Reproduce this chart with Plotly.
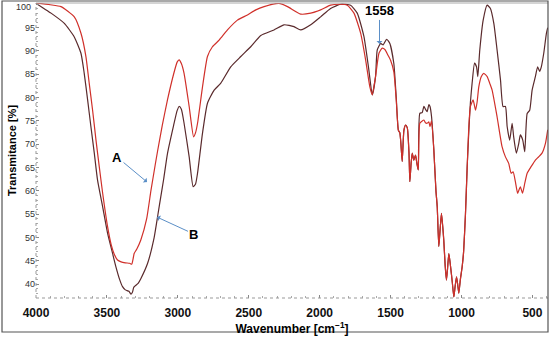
import plotly.graph_objects as go

# ---- data ----
wn_B = [4000, 3950, 3894, 3800, 3730, 3683, 3660, 3636, 3613, 3589, 3566, 3530, 3495, 3460, 3437, 3410, 3390,
        3370, 3345, 3331, 3320, 3310, 3280, 3261, 3213, 3167, 3140, 3120, 3100, 3073, 3030, 3005, 2991, 2975,
        2956, 2920, 2892, 2875, 2861, 2826, 2791, 2744, 2697, 2627, 2556, 2486, 2415, 2322, 2251, 2181, 2134,
        2063, 1993, 1923, 1852, 1782, 1735, 1688, 1653, 1629, 1606, 1594, 1570, 1552, 1528, 1505, 1477, 1460,
        1445, 1435, 1428, 1418, 1406, 1394, 1382, 1370, 1364, 1355, 1347, 1336, 1324, 1315, 1305, 1294, 1277,
        1265, 1254, 1242, 1230, 1222, 1211, 1195, 1180, 1171, 1160, 1150, 1141, 1125, 1115, 1106, 1098, 1089,
        1077, 1065, 1054, 1045, 1035, 1027, 1019, 1008, 995, 985, 972, 960, 948, 937, 925, 908, 894, 885, 871,
        847, 819, 796, 772, 749, 725, 707, 690, 678, 660, 643, 632, 613, 596, 585, 568, 554, 537, 519, 502, 479,
        463, 449, 437, 420, 401, 392]
T_B = [100.2, 99.2, 98.1, 95.9, 93.0, 89.5, 85.2, 79.5, 73.8, 68.1, 62.3, 56.6, 50.9, 46.6, 43.8, 41.0, 39.5,
       38.8, 38.5, 37.9, 38.3, 39.4, 40.2, 41.2, 44.5, 50.0, 55.0, 58.8, 62.5, 68.0, 74.0, 77.2, 78.1, 77.5,
       74.5, 67.3, 60.9, 61.5, 63.8, 72.4, 78.8, 81.6, 83.1, 86.6, 88.8, 90.9, 93.3, 94.5, 95.6, 95.2, 94.5,
       95.6, 97.3, 99.1, 100.0, 99.8, 98.1, 93.1, 85.9, 80.6, 84.5, 90.2, 91.6, 91.3, 92.5, 91.6, 87.3, 80.0,
       73.0, 72.5, 70.5, 66.3, 73.0, 74.1, 73.5, 68.0, 62.0, 66.0, 68.1, 66.6, 67.7, 66.0, 64.5, 76.6, 76.8,
       78.1, 77.5, 77.0, 78.5, 78.1, 75.9, 68.8, 60.0, 56.6, 48.1, 52.0, 55.2, 49.5, 44.0, 40.9, 43.5, 46.6,
       43.8, 40.5, 37.3, 39.5, 41.6, 40.0, 38.1, 41.0, 43.8, 47.0, 55.0, 65.0, 73.0, 79.0, 83.1, 87.4, 86.6,
       84.5, 90.2, 96.6, 99.8, 99.1, 95.9, 90.2, 83.8, 78.1, 78.1, 73.8, 70.9, 74.5, 71.6, 68.1, 70.2, 72.0,
       70.9, 68.4, 76.6, 77.3, 81.6, 84.5, 86.6, 85.6, 86.6, 89.5, 93.8, 95.0]

wn_A = [4000, 3900, 3824, 3730, 3683, 3648, 3625, 3601, 3577, 3554, 3530, 3495, 3470, 3449, 3425, 3400, 3370,
        3340, 3325, 3315, 3308, 3290, 3261, 3220, 3190, 3160, 3143, 3110, 3073, 3030, 3005, 2991, 2975, 2956,
        2920, 2889, 2875, 2861, 2826, 2791, 2756, 2709, 2650, 2580, 2509, 2450, 2392, 2287, 2227, 2134, 2063,
        1993, 1923, 1864, 1805, 1758, 1711, 1676, 1646, 1629, 1606, 1582, 1559, 1540, 1520, 1500, 1477, 1460,
        1445, 1435, 1428, 1418, 1406, 1394, 1382, 1370, 1364, 1355, 1347, 1336, 1324, 1315, 1305, 1294, 1277,
        1265, 1254, 1242, 1230, 1222, 1211, 1195, 1180, 1171, 1160, 1150, 1141, 1125, 1115, 1106, 1098, 1089,
        1077, 1065, 1054, 1045, 1035, 1027, 1019, 1008, 995, 985, 972, 960, 948, 937, 918, 901, 890, 878, 860,
        843, 819, 800, 784, 749, 714, 690, 667, 650, 636, 620, 604, 585, 570, 554, 537, 509, 479, 456, 432, 408,
        392]
T_A = [100.3, 99.9, 99.5, 97.3, 93.8, 88.8, 83.1, 77.3, 70.9, 65.2, 59.5, 52.3, 48.5, 46.5, 45.2, 44.8, 44.6,
       44.5, 44.3, 45.5, 46.6, 47.5, 49.5, 54.0, 60.0, 65.5, 68.5, 74.0, 79.5, 85.0, 87.6, 88.1, 87.3, 85.2,
       78.1, 71.6, 72.5, 74.5, 82.3, 88.8, 90.9, 92.3, 94.5, 96.6, 97.7, 98.8, 99.5, 100.2, 99.5, 97.9, 98.1,
       98.8, 99.8, 100.0, 99.8, 98.1, 93.8, 88.1, 82.3, 80.6, 84.5, 89.5, 90.6, 90.3, 89.2, 88.0, 85.5, 79.5,
       73.0, 72.5, 70.5, 66.3, 73.0, 74.1, 73.5, 68.0, 62.0, 66.0, 68.1, 66.6, 67.7, 66.0, 64.5, 74.5, 75.0,
       75.2, 74.6, 74.5, 74.8, 73.8, 75.0, 68.8, 60.0, 56.6, 48.1, 52.0, 55.2, 49.5, 44.0, 40.9, 43.5, 46.6,
       43.8, 40.5, 37.3, 39.5, 41.6, 40.0, 38.1, 41.0, 43.8, 47.0, 55.0, 65.0, 74.0, 78.1, 79.5, 77.3, 79.0,
       82.3, 84.5, 85.2, 84.5, 83.0, 81.6, 75.9, 69.5, 67.3, 65.9, 63.8, 64.1, 62.0, 59.5, 60.9, 59.5, 61.6,
       63.8, 65.2, 66.6, 67.3, 68.1, 70.2, 73.1]

x_ticks = [4000, 3500, 3000, 2500, 2000, 1500, 1000, 500]
y_ticks = [40, 45, 50, 55, 60, 65, 70, 75, 80, 85, 90, 95, 100]
y_ticktext = ["40", "45", "50", "55", "60", "65", "70", "75", "80", "85", "90", "95", " "]

FONT = "Liberation Sans, Arial, sans-serif"
ARROW = "#5b8fc7"

fig = go.Figure()
fig.add_trace(go.Scatter(x=wn_B, y=T_B, mode="lines", name="B",
                         line=dict(color="#5a2a2c", width=1.2, shape="spline", smoothing=0.5)))
fig.add_trace(go.Scatter(x=wn_A, y=T_A, mode="lines", name="A",
                         line=dict(color="#d0302a", width=1.2, shape="spline", smoothing=0.5)))

fig.update_layout(
    width=550, height=337,
    margin=dict(l=36, r=2, t=3, b=39),
    paper_bgcolor="white", plot_bgcolor="white",
    showlegend=False,
    font=dict(family=FONT, color="#000"),
)
fig.update_xaxes(
    range=[4000, 390], tickvals=x_ticks, ticks="inside", ticklen=3, tickcolor="#888",
    minor=dict(dtick=100, ticks="inside", ticklen=2, tickcolor="#aaa"),
    showgrid=False, zeroline=False, showline=False,
    tickfont=dict(family=FONT, size=12, color="#111", weight="bold"),
    ticklabelstandoff=6,
    title=dict(text="Wavenumber [cm<sup>−1</sup>]", font=dict(family=FONT, size=12, weight="bold"), standoff=2),
)
fig.update_yaxes(
    range=[37.06, 100.27], tickvals=y_ticks, ticktext=y_ticktext, ticks="inside", ticklen=3, tickcolor="#888",
    minor=dict(dtick=1, ticks="inside", ticklen=2, tickcolor="#aaa"),
    showgrid=False, zeroline=False, showline=False,
    tickfont=dict(family=FONT, size=9, color="#333"),
    title=dict(text="Transmitance [%]", font=dict(family=FONT, size=11, weight="bold"), standoff=6),
)

# top "100" label sits slightly lower in the reference (clipped at the top edge)
fig.add_annotation(xref="paper", x=0, xshift=-3, xanchor="right", yref="paper", y=1, yshift=-4,
                   yanchor="middle", text="100", showarrow=False,
                   font=dict(family=FONT, size=9, color="#333"))

# dotted axis lines and frame
fig.add_shape(type="line", xref="paper", yref="paper", x0=0, x1=0, y0=0, y1=1,
              line=dict(color="#999", width=1, dash="dot"))
fig.add_shape(type="line", xref="paper", yref="paper", x0=0, x1=1, y0=0, y1=0,
              line=dict(color="#999", width=1, dash="dot"))
fig.add_shape(type="line", xref="paper", yref="paper", x0=0, x1=1, y0=1, y1=1,
              line=dict(color="#aaa", width=1))
fig.add_shape(type="rect", xref="paper", yref="paper", x0=-0.0664, x1=1.0, y0=-0.1153, y1=1.0068,
              line=dict(color="#555", width=1.2))

# annotations
fig.add_annotation(x=3217, y=61.9, text="<b>A</b>", showarrow=True, ax=-30, ay=-25,
                   arrowhead=1, arrowsize=1, arrowwidth=1, arrowcolor=ARROW,
                   font=dict(family=FONT, size=13, color="#000"))
fig.add_annotation(x=3147, y=54.4, text="<b>B</b>", showarrow=True, ax=37, ay=17,
                   arrowhead=1, arrowsize=1, arrowwidth=1, arrowcolor=ARROW,
                   font=dict(family=FONT, size=13, color="#000"))
fig.add_annotation(x=1578, y=91.5, text="<b>1558</b>", showarrow=True, ax=0, ay=-33,
                   arrowhead=1, arrowsize=1, arrowwidth=1, arrowcolor=ARROW,
                   font=dict(family=FONT, size=13, color="#000"))

fig.write_html("out.html", config={"displayModeBar": False},
               post_script="document.body.style.margin='0';document.body.style.padding='0';"
                           "document.documentElement.style.overflow='hidden';")
